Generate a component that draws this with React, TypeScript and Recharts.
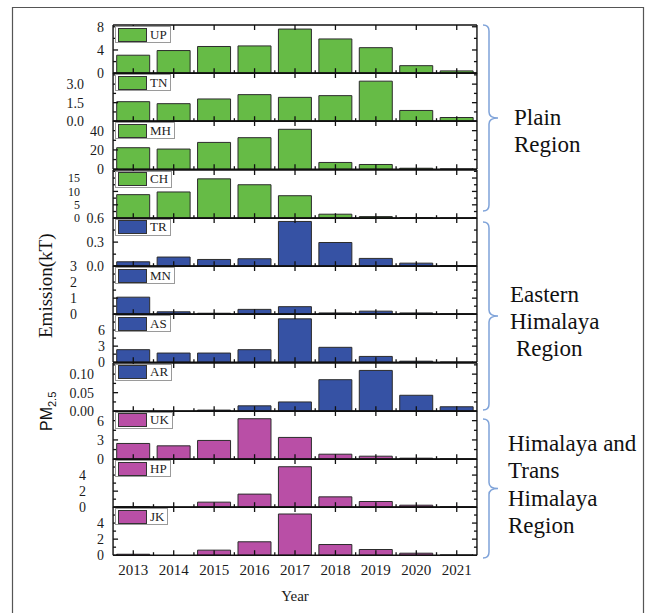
import React from "react";
import { BarChart, Bar, XAxis, YAxis, Legend, ReferenceLine } from "recharts";

const years = ["2013", "2014", "2015", "2016", "2017", "2018", "2019", "2020", "2021"];

// PM2.5 emission (kT) per state
const upValues = [3.1, 3.9, 4.6, 4.7, 7.6, 5.9, 4.4, 1.3, 0.4];
const tnValues = [1.58, 1.42, 1.8, 2.15, 1.93, 2.07, 3.24, 0.87, 0.3];
const mhValues = [22.3, 20.9, 27.8, 32.7, 41.4, 7.0, 4.9, 1.0, 0.3];
const chValues = [8.8, 9.8, 14.7, 12.5, 8.4, 1.5, 0.6, 0.2, 0.05];
const trValues = [0.055, 0.114, 0.084, 0.093, 0.557, 0.295, 0.097, 0.038, 0.008];
const mnValues = [1.06, 0.15, 0.06, 0.3, 0.47, 0.08, 0.19, 0.08, 0.02];
const asValues = [2.34, 1.71, 1.71, 2.34, 8.1, 2.78, 1.08, 0.19, 0.02];
const arValues = [0, 0, 0.003, 0.0145, 0.025, 0.085, 0.11, 0.043, 0.012];
const ukValues = [2.45, 2.08, 2.92, 6.3, 3.39, 0.78, 0.47, 0.16, 0.05];
const hpValues = [0.08, 0, 0.63, 1.63, 5.04, 1.29, 0.71, 0.25, 0.05];
const jkValues = [0.12, 0, 0.63, 1.67, 5.13, 1.33, 0.71, 0.25, 0.04];

// y tick labels (major) and minor ticks
const upTicks = [0, 4, 8];
const upMinor = [2, 6];
const tnTicks = [0, 1.5, 3];
const tnMinor = [0.75, 2.25, 3.75];
const mhTicks = [0, 20, 40];
const mhMinor = [10, 30];
const chTicks = [0, 5, 10, 15];
const chMinor = [2.5, 7.5, 12.5, 17.5];
const trTicks = [0, 0.3, 0.6];
const trMinor = [0.15, 0.45];
const mnTicks = [0, 1, 2, 3];
const mnMinor = [0.5, 1.5, 2.5];
const asTicks = [0, 3, 6];
const asMinor = [1.5, 4.5, 7.5];
const arTicks = [0, 0.05, 0.1];
const arMinor = [0.025, 0.075, 0.125];
const ukTicks = [0, 3, 6];
const ukMinor = [1.5, 4.5];
const hpTicks = [0, 2, 4];
const hpMinor = [1, 3, 5];
const jkTicks = [0, 2, 4];
const jkMinor = [1, 3, 5];

const GREEN = "#66bb46";
const BLUE = "#3652a4";
const MAGENTA = "#b94fa6";

const W = 646;
const PLOT_L = 113;
const PLOT_R = 477;
const TOP = 25;
const PANEL_H = 48.23;
const THIN = 0.01; // axes need a non-zero size to be drawn
const FONT = "'Liberation Serif', 'Times New Roman', serif";
const INK = "#111";

const panels = [
  { name: "UP", values: upValues, color: GREEN, max: 8.3, ticks: upTicks, minor: upMinor, dec: 0, labelX: 104, fs: 14 },
  { name: "TN", values: tnValues, color: GREEN, max: 3.9, ticks: tnTicks, minor: tnMinor, dec: 1, labelX: 84, fs: 14 },
  { name: "MH", values: mhValues, color: GREEN, max: 50, ticks: mhTicks, minor: mhMinor, dec: 0, labelX: 104, fs: 14 },
  { name: "CH", values: chValues, color: GREEN, max: 18, ticks: chTicks, minor: chMinor, dec: 0, labelX: 80, fs: 12 },
  { name: "TR", values: trValues, color: BLUE, max: 0.6, ticks: trTicks, minor: trMinor, dec: 1, labelX: 104, fs: 14 },
  { name: "MN", values: mnValues, color: BLUE, max: 3, ticks: mnTicks, minor: mnMinor, dec: 0, labelX: 77, fs: 14 },
  { name: "AS", values: asValues, color: BLUE, max: 9, ticks: asTicks, minor: asMinor, dec: 0, labelX: 105, fs: 14 },
  { name: "AR", values: arValues, color: BLUE, max: 0.13, ticks: arTicks, minor: arMinor, dec: 2, labelX: 94, fs: 14 },
  { name: "UK", values: ukValues, color: MAGENTA, max: 7.5, ticks: ukTicks, minor: ukMinor, dec: 0, labelX: 104, fs: 14 },
  { name: "HP", values: hpValues, color: MAGENTA, max: 6, ticks: hpTicks, minor: hpMinor, dec: 0, labelX: 86, fs: 14 },
  { name: "JK", values: jkValues, color: MAGENTA, max: 6, ticks: jkTicks, minor: jkMinor, dec: 0, labelX: 104, fs: 14 },
];

const axisLine = { stroke: INK, strokeWidth: 1.4 };

// inward tick marks drawn as the shape of a reference line:
// a short stub at both ends instead of a full line
// eslint-disable-next-line @typescript-eslint/no-explicit-any
const sideStubs = (len: number) => (s: any) => {
  const xl = Math.min(Number(s.x1), Number(s.x2));
  const xr = Math.max(Number(s.x1), Number(s.x2));
  const y = Number(s.y1);
  return (
    <g>
      <line x1={xl} x2={xl + len} y1={y} y2={y} stroke={INK} strokeWidth={1.3} />
      <line x1={xr - len} x2={xr} y1={y} y2={y} stroke={INK} strokeWidth={1.3} />
    </g>
  );
};

// eslint-disable-next-line @typescript-eslint/no-explicit-any
const edgeStubs = (len: number, top: boolean) => (s: any) => {
  const yt = Math.min(Number(s.y1), Number(s.y2));
  const yb = Math.max(Number(s.y1), Number(s.y2));
  const x = Number(s.x1);
  return (
    <g>
      {top && <line x1={x} x2={x} y1={yt} y2={yt + len} stroke={INK} strokeWidth={1.3} />}
      <line x1={x} x2={x} y1={yb - len} y2={yb} stroke={INK} strokeWidth={1.3} />
    </g>
  );
};

const majorStub = sideStubs(5);
const minorStub = sideStubs(3);
const centreStub = edgeStubs(5, true);
const boundaryStub = edgeStubs(3, false);

// eslint-disable-next-line @typescript-eslint/no-explicit-any
function PanelLegend({ payload }: any) {
  const item = payload?.[0];
  if (!item) return null;
  return (
    <div
      style={{
        display: "flex",
        alignItems: "center",
        border: "1px solid #9a9a9a",
        background: "#fff",
        height: 17,
        boxSizing: "border-box",
        padding: "0 3px 0 2px",
        fontFamily: FONT,
      }}
    >
      <span
        style={{
          display: "inline-block",
          width: 29,
          height: 14,
          background: item.color,
          border: "1px solid #333",
          boxSizing: "border-box",
        }}
      />
      <span style={{ marginLeft: 3, fontSize: 13, color: "#222", lineHeight: "14px" }}>
        {item.value}
      </span>
    </div>
  );
}

function Panel({ p, index }: { p: (typeof panels)[number]; index: number }) {
  const last = index === panels.length - 1;
  const data = years.map((y, i) => ({ year: y, v: p.values[i] }));
  const domain = [0, p.max];

  return (
    <div style={{ position: "absolute", left: 0, top: TOP + index * PANEL_H }}>
      <BarChart
        width={W}
        height={PANEL_H}
        data={data}
        margin={{ top: 0, right: W - PLOT_R, bottom: 0, left: PLOT_L }}
        barCategoryGap="9%"
      >
        <XAxis
          dataKey="year"
          height={THIN}
          interval={0}
          tickLine={false}
          axisLine={axisLine}
          // eslint-disable-next-line @typescript-eslint/no-explicit-any
          tick={
            last
              ? (t: any) => (
                  <text x={t.x} y={PANEL_H + 14.5} dy="0.35em" textAnchor="middle" fill="#1a1a1a" fontSize={15}>
                    {t.payload.value}
                  </text>
                )
              : false
          }
          label={
            last
              ? { value: "Year", position: "bottom", offset: 35, fill: "#1a1a1a", fontSize: 15 }
              : undefined
          }
        />
        <XAxis
          xAxisId="top"
          orientation="top"
          dataKey="year"
          height={THIN}
          interval={0}
          tickLine={false}
          tick={false}
          axisLine={axisLine}
        />
        <YAxis
          domain={domain}
          ticks={p.ticks}
          width={THIN}
          interval={0}
          tickLine={false}
          axisLine={axisLine}
          // eslint-disable-next-line @typescript-eslint/no-explicit-any
          tick={(t: any) => (
            <text x={p.labelX} y={t.y} dy="0.35em" textAnchor="end" fill="#1a1a1a" fontSize={p.fs}>
              {Number(t.payload.value).toFixed(p.dec)}
            </text>
          )}
        />
        <YAxis
          yAxisId="r"
          orientation="right"
          domain={domain}
          ticks={p.ticks}
          width={THIN}
          interval={0}
          tickLine={false}
          tick={false}
          axisLine={axisLine}
        />
        <Legend
          layout="horizontal"
          verticalAlign="middle"
          align="center"
          content={<PanelLegend />}
          wrapperStyle={{ left: 115, top: 1, width: "auto", height: "auto" }}
        />
        <Bar
          dataKey="v"
          name={p.name}
          fill={p.color}
          stroke="#2b2b2b"
          strokeWidth={1}
          isAnimationActive={false}
        />
        {p.ticks.map((v) => (
          <ReferenceLine key={`M${v}`} y={v} ifOverflow="visible" shape={majorStub} />
        ))}
        {p.minor.map((v) => (
          <ReferenceLine key={`m${v}`} y={v} ifOverflow="visible" shape={minorStub} />
        ))}
        {years.map((yr) => (
          <ReferenceLine key={`c${yr}`} x={yr} position="middle" ifOverflow="visible" shape={centreStub} />
        ))}
        {years.slice(1).map((yr) => (
          <ReferenceLine key={`b${yr}`} x={yr} position="start" ifOverflow="visible" shape={boundaryStub} />
        ))}
      </BarChart>
    </div>
  );
}

function bracePath(x: number, y0: number, y1: number) {
  const ym = (y0 + y1) / 2;
  const r = 6;
  return [
    `M ${x - 6} ${y0}`,
    `Q ${x} ${y0} ${x} ${y0 + r}`,
    `L ${x} ${ym - r}`,
    `Q ${x} ${ym} ${x + 9} ${ym}`,
    `Q ${x} ${ym} ${x} ${ym + r}`,
    `L ${x} ${y1 - r}`,
    `Q ${x} ${y1} ${x - 6} ${y1}`,
  ].join(" ");
}

const regionText = { fontSize: 23, fill: INK };

export default function App() {
  return (
    <div
      style={{
        position: "absolute",
        left: 0,
        top: 0,
        width: W,
        height: 613,
        background: "#fff",
        fontFamily: FONT,
        overflow: "hidden",
      }}
    >
      <style>{".recharts-surface{overflow:visible}"}</style>
      <svg
        width={W}
        height={613}
        style={{ position: "absolute", left: 0, top: 0, pointerEvents: "none" }}
      >
        <path d="M 12.5 640 L 12.5 7.5 L 643.5 7.5 L 643.5 640" fill="none" stroke="#555" strokeWidth={1.2} />
        <g fill="none" stroke="#7fa3d9" strokeWidth={1.5}>
          <path d={bracePath(489, 25, 211)} />
          <path d={bracePath(489, 222, 410)} />
          <path d={bracePath(489, 419, 558)} />
        </g>
        <g fontFamily={FONT} {...regionText}>
          <text x={514} y={125}>Plain</text>
          <text x={514} y={152}>Region</text>
          <text x={510} y={302}>Eastern</text>
          <text x={510} y={329}>Himalaya</text>
          <text x={516} y={356}>Region</text>
          <text x={508} y={451}>Himalaya and</text>
          <text x={508} y={478}>Trans</text>
          <text x={508} y={506}>Himalaya</text>
          <text x={508} y={533}>Region</text>
        </g>
        <text
          transform="translate(52, 431) rotate(-90)"
          fontFamily="'Liberation Sans', Arial, sans-serif"
          fontSize={16}
          fill={INK}
        >
          PM<tspan fontSize={11} dy={4}>2.5</tspan>
        </text>
        <text
          transform="translate(52, 338) rotate(-90)"
          fontFamily={FONT}
          fontSize={19}
          fill={INK}
        >
          Emission(kT)
        </text>
      </svg>
      {panels.map((p, i) => (
        <Panel key={p.name} p={p} index={i} />
      ))}
    </div>
  );
}
